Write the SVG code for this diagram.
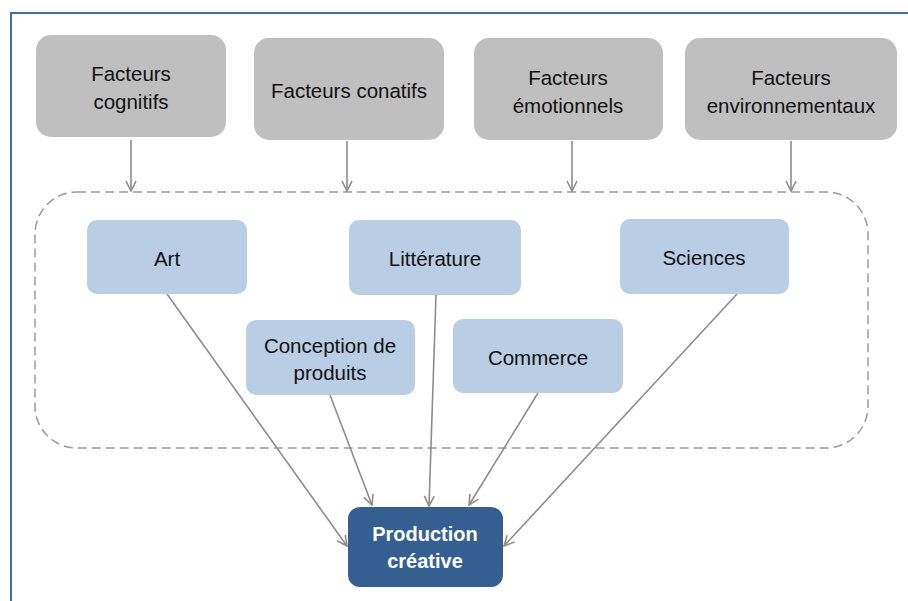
<svg xmlns="http://www.w3.org/2000/svg" width="908" height="601" viewBox="0 0 908 601">
<defs>
<style>
.g{fill:#BFBFBF}
.b{fill:#B9CDE5}
.t{font-family:"Liberation Sans",Arial,sans-serif;font-size:20.5px;fill:#111;text-anchor:middle;dominant-baseline:central}
.w{font-family:"Liberation Sans",Arial,sans-serif;font-size:20px;font-weight:bold;fill:#fff;text-anchor:middle;dominant-baseline:central}
.c{stroke:#8C8C8C;stroke-width:1.6;fill:none;marker-end:url(#ah)}
</style>
<marker id="ah" viewBox="0 0 12 12" refX="11" refY="6" markerWidth="12" markerHeight="12" markerUnits="userSpaceOnUse" orient="auto">
<path d="M1,1 L11,6 L1,11" fill="none" stroke="#8C8C8C" stroke-width="1.6"/>
</marker>
</defs>
<rect width="908" height="601" fill="#fff"/>
<path d="M11,610 L11,13 L915,13" fill="none" stroke="#4A6C9E" stroke-width="2"/>
<rect id="domaine" x="35" y="192" width="833" height="256" rx="42" fill="none" stroke="#9A9A9A" stroke-width="1.5" stroke-dasharray="9,5"/>
<g id="connectors">
<line class="c" x1="131" y1="140" x2="131" y2="191"/>
<line class="c" x1="347" y1="141" x2="347" y2="191"/>
<line class="c" x1="572" y1="141" x2="572" y2="191"/>
<line class="c" x1="791" y1="141" x2="791" y2="191"/>
<line class="c" x1="167" y1="294" x2="347" y2="546"/>
<line class="c" x1="330" y1="395" x2="372" y2="505"/>
<line class="c" x1="436" y1="295" x2="429" y2="506"/>
<line class="c" x1="538" y1="393" x2="469" y2="505"/>
<line class="c" x1="737" y1="294" x2="504" y2="546"/>
</g>
<g id="cognitifs"><rect class="g" x="36" y="35" width="190" height="102" rx="15"/><text class="t" x="131" y="73">Facteurs</text><text class="t" x="131" y="101">cognitifs</text></g>
<g id="conatifs"><rect class="g" x="254" y="38" width="190" height="102" rx="15"/><text class="t" x="349" y="90">Facteurs conatifs</text></g>
<g id="emotionnels"><rect class="g" x="474" y="38" width="189" height="102" rx="15"/><text class="t" x="568" y="77">Facteurs</text><text class="t" x="568" y="105">émotionnels</text></g>
<g id="environnementaux"><rect class="g" x="685" y="38" width="212" height="102" rx="15"/><text class="t" x="791" y="77">Facteurs</text><text class="t" x="791" y="105">environnementaux</text></g>
<g id="art"><rect class="b" x="87" y="220" width="160" height="74" rx="10"/><text class="t" x="167" y="258">Art</text></g>
<g id="litterature"><rect class="b" x="349" y="220" width="172" height="75" rx="10"/><text class="t" x="435" y="258">Littérature</text></g>
<g id="sciences"><rect class="b" x="620" y="219" width="169" height="75" rx="10"/><text class="t" x="704" y="257">Sciences</text></g>
<g id="conception"><rect class="b" x="246" y="320" width="169" height="75" rx="10"/><text class="t" x="330" y="345">Conception de</text><text class="t" x="330" y="372">produits</text></g>
<g id="commerce"><rect class="b" x="453" y="319" width="170" height="74" rx="10"/><text class="t" x="538" y="357">Commerce</text></g>
<g id="production"><rect x="348" y="507" width="155" height="80" rx="12" fill="#365F91"/><text class="w" x="425" y="534">Production</text><text class="w" x="425" y="561">créative</text></g>
</svg>
